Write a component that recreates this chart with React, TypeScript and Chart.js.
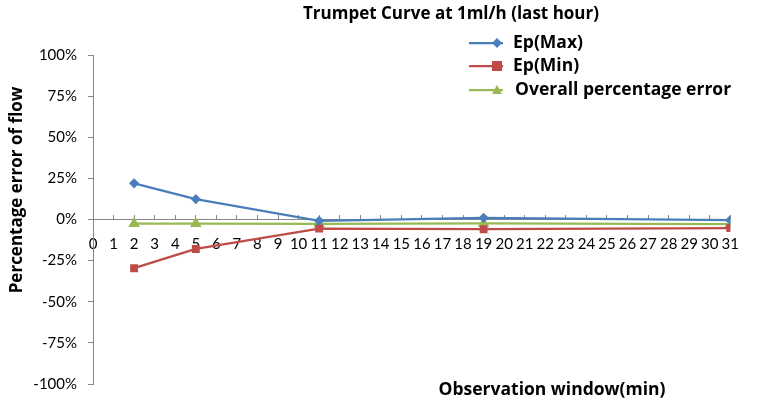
import React, { useEffect, useRef } from 'react';
import { Chart, registerables } from 'chart.js';

Chart.register(...registerables);

const TITLE = 'Trumpet Curve at 1ml/h (last hour)';
const Y_TITLE = 'Percentage error of flow';
const X_TITLE = 'Observation window(min)';

const xTickValues = [0, 1, 2, 3, 4, 5, 6, 7, 8, 9, 10, 11, 12, 13, 14, 15, 16, 17, 18, 19, 20, 21, 22, 23, 24, 25, 26, 27, 28, 29, 30, 31];
const yTickValues = [-100, -75, -50, -25, 0, 25, 50, 75, 100];

const windows = [2, 5, 11, 19, 31];
const epMax = [22, 12.4, -0.8, 1.0, -0.4];
const epMin = [-29.6, -17.9, -5.5, -5.9, -5.2];
const overall = [-2.5, -2.5, -2.6, -2.4, -2.8];
const seriesNames = ['Ep(Max)', 'Ep(Min)', 'Overall percentage error'];

const BLUE = '#4A7EBB';
const RED = '#BE4B48';
const GREEN = '#98B954';
const AXIS = '#868686';

function drawMarker(ctx: CanvasRenderingContext2D, style: string, x: number, y: number, r: number) {
  ctx.beginPath();
  if (style === 'rectRot') {
    ctx.moveTo(x, y - r);
    ctx.lineTo(x + r, y);
    ctx.lineTo(x, y + r);
    ctx.lineTo(x - r, y);
  } else if (style === 'rect') {
    ctx.rect(x - r, y - r, 2 * r, 2 * r);
  } else {
    ctx.moveTo(x, y - r);
    ctx.lineTo(x + r, y + r * 0.8);
    ctx.lineTo(x - r, y + r * 0.8);
  }
  ctx.closePath();
  ctx.fill();
}

const textPlugin = {
  id: 'textPlugin',
  afterDraw(chart: any) {
    const ctx: CanvasRenderingContext2D = chart.ctx;
    ctx.save();
    ctx.fillStyle = '#000';
    ctx.textBaseline = 'middle';
    ctx.textAlign = 'center';
    ctx.font = 'bold 17px "Open Sans"';
    ctx.fillText(TITLE, 451, 14);
    ctx.font = 'bold 17.5px "Open Sans"';
    ctx.fillText(X_TITLE, 552, 390);
    ctx.font = 'bold 17px "Open Sans"';
    ctx.save();
    ctx.translate(17, 190);
    ctx.rotate(-Math.PI / 2);
    ctx.fillText(Y_TITLE, 0, 0);
    ctx.restore();

    const rows = [43, 66, 90];
    const textX = [513, 513, 515];
    chart.data.datasets.forEach((ds: any, i: number) => {
      const y = rows[i];
      ctx.strokeStyle = ds.borderColor;
      ctx.lineWidth = 2.25;
      ctx.beginPath();
      ctx.moveTo(469, y);
      ctx.lineTo(503, y);
      ctx.stroke();
      ctx.fillStyle = ds.borderColor;
      drawMarker(ctx, ds.pointStyle, 497, y, 5);
      ctx.fillStyle = '#000';
      ctx.textAlign = 'left';
      ctx.font = 'bold 17.5px "Open Sans"';
      ctx.fillText(ds.label, textX[i], y);
    });
    ctx.restore();
  },
};

export default function App() {
  const ref = useRef<HTMLCanvasElement>(null);
  useEffect(() => {
    document.body.style.margin = '0';
    const mk = (vals: number[]) => windows.map((x, i) => ({ x, y: vals[i] }));
    const chart = new Chart(ref.current!, {
      type: 'line',
      data: {
        datasets: [
          { label: seriesNames[0], data: mk(epMax), borderColor: BLUE, backgroundColor: BLUE, pointStyle: 'rectRot', pointRadius: 3.5, borderWidth: 2.25 },
          { label: seriesNames[1], data: mk(epMin), borderColor: RED, backgroundColor: RED, pointStyle: 'rect', pointRadius: 4, borderWidth: 2.25 },
          { label: seriesNames[2], data: mk(overall), borderColor: GREEN, backgroundColor: GREEN, pointStyle: 'triangle', pointRadius: 4.5, borderWidth: 2.25 },
        ],
      },
      options: {
        responsive: false,
        animation: false,
        layout: { padding: { left: 0, right: 18, top: 55, bottom: 19 } },
        plugins: { legend: { display: false }, title: { display: false }, tooltip: { enabled: false } },
        scales: {
          x: {
            type: 'linear',
            position: { y: 0 } as any,
            min: 0,
            max: 31,
            afterBuildTicks: (s: any) => { s.ticks = xTickValues.map((v) => ({ value: v })); },
            ticks: { autoSkip: false, maxRotation: 0, minRotation: 0, padding: 21, color: '#000', font: { family: 'Lato', size: 15 } },
            grid: { display: true, drawOnChartArea: false, drawTicks: true, tickLength: -5, color: AXIS },
            border: { display: true, color: AXIS, width: 1 },
          },
          y: {
            type: 'linear',
            min: -100,
            max: 100,
            afterBuildTicks: (s: any) => { s.ticks = yTickValues.map((v) => ({ value: v })); },
            afterFit: (s: any) => { s.width = 93; },
            ticks: { padding: 11, color: '#000', font: { family: 'Lato', size: 15 }, callback: (v: any) => v + '%' },
            grid: { display: true, drawOnChartArea: false, drawTicks: true, tickLength: 5, color: AXIS },
            border: { display: true, color: AXIS, width: 1 },
          },
        },
      },
      plugins: [textPlugin],
    });
    return () => chart.destroy();
  }, []);
  return (
    <div style={{ width: 760, height: 404 }}>
      <canvas ref={ref} width={760} height={404} style={{ display: 'block' }} />
    </div>
  );
}
